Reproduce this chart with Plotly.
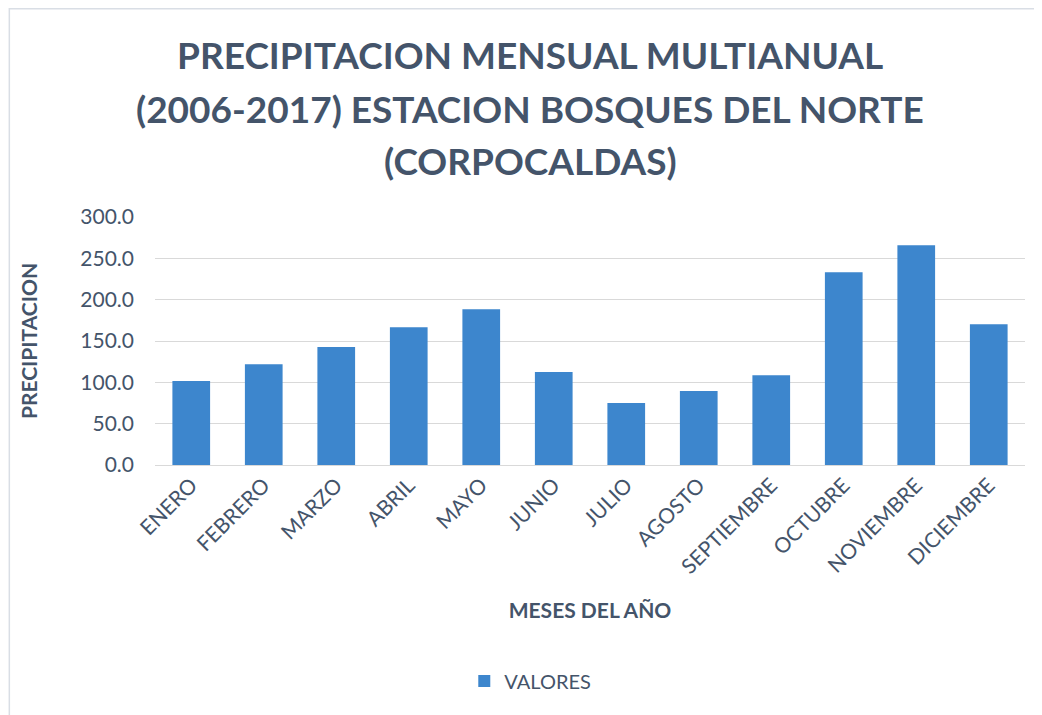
import plotly.graph_objects as go

meses = ["ENERO", "FEBRERO", "MARZO", "ABRIL", "MAYO", "JUNIO", "JULIO",
         "AGOSTO", "SEPTIEMBRE", "OCTUBRE", "NOVIEMBRE", "DICIEMBRE"]
valores = [101.5, 122.0, 142.6, 166.7, 188.5, 112.4, 74.9, 89.4, 108.7, 233.2, 265.8, 170.4]
y_ticks = [0, 50, 100, 150, 200, 250, 300]
titulo = ["PRECIPITACION MENSUAL MULTIANUAL",
          "(2006-2017) ESTACION BOSQUES DEL NORTE",
          "(CORPOCALDAS)"]

TXT = "#44546a"
FONT = "Lato"

# page body has an 8px margin: work in figure pixels
W, H = 1034, 707
L, R, T, B = 146.5, 17, 209, 250
pw, ph = W - L - R, H - T - B


def px_x(x):
    return (x - L) / pw


def px_y(y):
    return (H - B - y) / ph


fig = go.Figure()
fig.add_trace(go.Bar(
    x=meses, y=valores, name="VALORES",
    marker=dict(color="#3d86cd", line=dict(width=0)),
))

title_rows = [47, 100, 152]
annotations = [dict(text=f"<b>{t}</b>", xref="paper", yref="paper",
                    x=px_x(522), y=px_y(yy), xanchor="center", yanchor="middle",
                    showarrow=False, font=dict(family=FONT, size=37, color=TXT))
               for t, yy in zip(titulo, title_rows)]

fig.update_layout(
    width=W, height=H,
    margin=dict(l=L, r=R, t=T, b=B, autoexpand=False),
    paper_bgcolor="white", plot_bgcolor="white",
    bargap=0.48,
    font=dict(family=FONT, color=TXT, size=20),
    annotations=annotations,
    showlegend=True,
    legend=dict(orientation="h", x=px_x(522), xanchor="center",
                y=px_y(673), yanchor="middle",
                font=dict(size=20, color=TXT)),
    xaxis=dict(
        tickangle=-45, tickfont=dict(size=21, color=TXT),
        showgrid=False, showline=False, ticks="", ticklabelstandoff=3,
        title=dict(text="<b>MESES DEL AÑO</b>", font=dict(size=21, color=TXT), standoff=26),
    ),
    yaxis=dict(
        range=[0, 300], tickvals=y_ticks, tickformat=".1f",
        tickfont=dict(size=21, color=TXT), ticklabelstandoff=20,
        gridcolor="#d9d9d9", gridwidth=1, zeroline=True, zerolinecolor="#d9d9d9",
        zerolinewidth=1, showline=False, ticks="",
        title=dict(text="<b>PRECIPITACION</b>", font=dict(size=21, color=TXT), standoff=36),
    ),
    shapes=[dict(type="rect", xref="paper", yref="paper",
                 x0=px_x(0.75), x1=px_x(W + 5),
                 y0=px_y(H + 5), y1=px_y(0.75),
                 line=dict(color="#d9dee5", width=1.5), fillcolor="rgba(0,0,0,0)", layer="below")],
)

fig.write_html("out.html")
